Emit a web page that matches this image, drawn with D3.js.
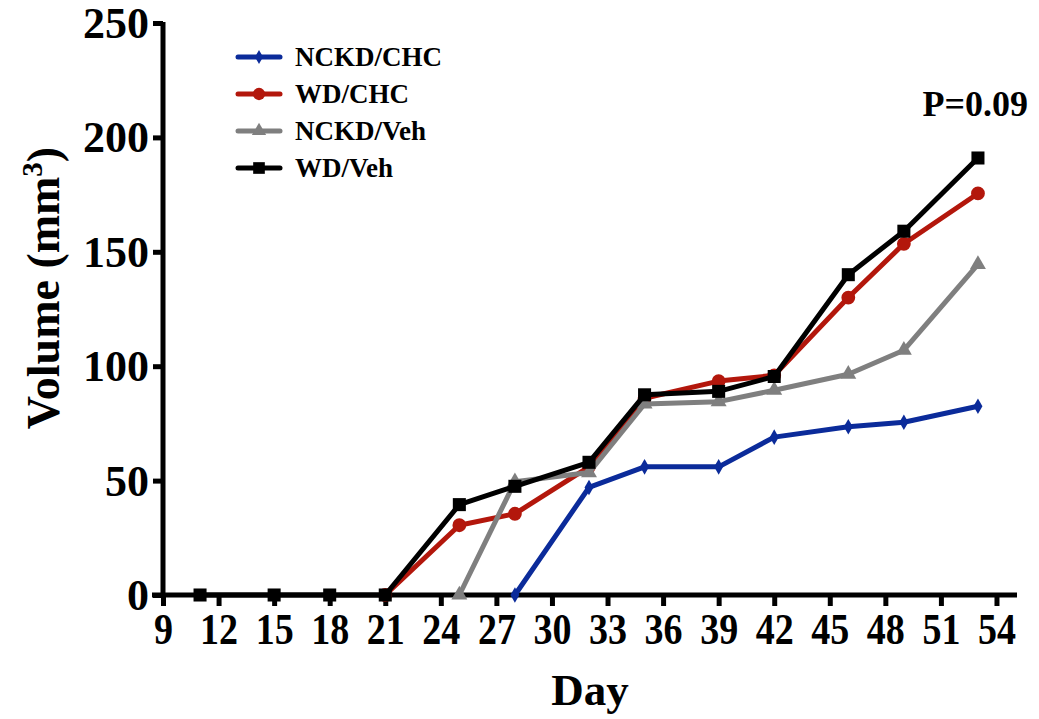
<!DOCTYPE html>
<html>
<head>
<meta charset="utf-8">
<script src="https://cdn.jsdelivr.net/npm/d3@7"></script>
<style>
  body { margin: 0; background: #fff; }
  text { font-family: "Liberation Serif", "Times New Roman", serif; font-weight: bold; }
</style>
</head>
<body>
<script>
// data
var days = [11, 15, 18, 21, 25, 28, 32, 35, 39, 42, 46, 49, 53];
var ncdkChc = [null, null, null, null, null, 0, 47, 56, 56, 69, 73.5, 75.5, 82.5];
var wdChc   = [null, null, null, 0, 30.5, 35.5, 56, 86, 93.5, 96, 130, 153.5, 175.5];
var ncdkVeh = [null, null, null, null, 0, 49.5, 53.5, 83.5, 84.5, 89.5, 96.5, 107, 144.5];
var wdVeh   = [0, 0, 0, 0, 39.5, 47.5, 58, 87.5, 89, 95.5, 140, 159, 191];
var seriesNames = ["NCKD/CHC", "WD/CHC", "NCKD/Veh", "WD/Veh"];
var xTicks = [9, 12, 15, 18, 21, 24, 27, 30, 33, 36, 39, 42, 45, 48, 51, 54];
var yTicks = [0, 50, 100, 150, 200, 250];

var colors = ["#0b2b9a", "#b3170c", "#7f7f7f", "#000000"];
var symbols = [d3.symbolDiamond, d3.symbolCircle, d3.symbolTriangle, d3.symbolSquare];
var symSizes = [70, 150, 110, 170];
var allValues = [ncdkChc, wdChc, ncdkVeh, wdVeh];

var svg = d3.select("body").append("svg").attr("width", 1039).attr("height", 719);

var x = d3.scaleLinear().domain([9, 55]).range([163, 1015]),
    y = d3.scaleLinear().domain([0, 250]).range([595, 23]);

// axes
var xAxis = svg.append("g").attr("transform", "translate(0,595)")
  .call(d3.axisBottom(x).tickValues(xTicks).tickSize(11).tickPadding(8).tickSizeOuter(0));
var yAxis = svg.append("g").attr("transform", "translate(163,0)")
  .call(d3.axisLeft(y).tickValues(yTicks).tickSize(10).tickPadding(4).tickSizeOuter(0));

[xAxis, yAxis].forEach(function(a){
  a.select(".domain").attr("stroke", "#000").attr("stroke-width", 5);
  a.selectAll(".tick line").attr("stroke", "#000").attr("stroke-width", 5);
  a.selectAll(".tick text").attr("fill", "#000").style("font-family", "Liberation Serif")
    .style("font-weight", "bold");
});
xAxis.select(".domain").attr("d", "M152,0H1017");
yAxis.select(".domain").attr("d", "M0,22V597");
// x labels are tall and narrow in the original
xAxis.selectAll(".tick text").style("font-size", "45px").attr("dy", "0.71em").attr("y", 17)
  .attr("textLength", function(d){ return String(d).length * 19; })
  .attr("lengthAdjust", "spacingAndGlyphs");
yAxis.selectAll(".tick text").style("font-size", "44px").attr("dy", "0.33em");

// axis titles
svg.append("text").attr("x", 590).attr("y", 705).attr("text-anchor", "middle")
  .style("font-size", "45px").text("Day");
var yt = svg.append("text").attr("transform", "translate(59,288) rotate(-90)")
  .attr("text-anchor", "middle").style("font-size", "46px");
yt.append("tspan").text("Volume (mm");
yt.append("tspan").attr("dy", -17).style("font-size", "29px").text("3");
yt.append("tspan").attr("dy", 17).text(")");

// lines
var line = d3.line()
  .defined(function(d){ return d.v !== null; })
  .x(function(d){ return x(d.day); })
  .y(function(d){ return y(d.v); });

allValues.forEach(function(vals, i){
  var pts = days.map(function(d, j){ return {day: d, v: vals[j]}; });
  var g = svg.append("g");
  g.append("path").datum(pts).attr("d", line)
    .attr("fill", "none").attr("stroke", colors[i]).attr("stroke-width", 5)
    .attr("stroke-linejoin", "round");
  g.selectAll("path.pt").data(pts.filter(function(p){ return p.v !== null; }))
    .enter().append("path").attr("class", "pt")
    .attr("transform", function(p){ return "translate(" + x(p.day) + "," + y(p.v) + ")"; })
    .attr("d", d3.symbol().type(symbols[i]).size(symSizes[i]))
    .attr("fill", colors[i]);
});

// legend
var legend = svg.append("g");
seriesNames.forEach(function(name, i){
  var ly = 57 + i * 37;
  legend.append("line").attr("x1", 238).attr("x2", 280).attr("y1", ly).attr("y2", ly)
    .attr("stroke", colors[i]).attr("stroke-width", 5).attr("stroke-linecap", "round");
  legend.append("path").attr("transform", "translate(259," + ly + ")")
    .attr("d", d3.symbol().type(symbols[i]).size(symSizes[i] * 0.8)).attr("fill", colors[i]);
  legend.append("text").attr("x", 295).attr("y", ly + 9).style("font-size", "27px").text(name);
});

svg.append("text").attr("x", 1028).attr("y", 116).attr("text-anchor", "end")
  .style("font-size", "36px").text("P=0.09");
</script>
</body>
</html>
